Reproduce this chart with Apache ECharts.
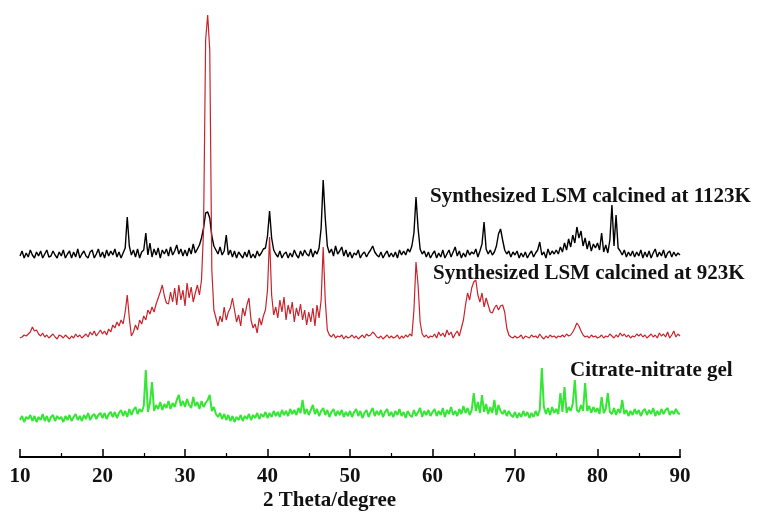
<!DOCTYPE html>
<html>
<head>
<meta charset="utf-8">
<script src="https://cdn.jsdelivr.net/npm/echarts@6/dist/echarts.min.js"></script>
<style>
  html, body { margin: 0; padding: 0; background: #fff; }
  #chart { width: 760px; height: 515px; }
</style>
</head>
<body>
<div id="chart"></div>
<script>
// 2θ sampling of the patterns (degrees)
const thetaStart = 10;
const thetaStep = 0.25;
const xTicks = [10, 20, 30, 40, 50, 60, 70, 80, 90];

// intensities (a.u.), one value per 0.25°, 10° → 90°
const lsm1123K = [
  2,7,0,5,1,8,3,0,6,2,7,0,4,8,1,2,7,3,0,6,
  2,8,0,4,7,0,6,1,9,0,4,7,2,0,6,8,0,4,9,1,
  6,0,8,2,7,3,9,1,6,0,5,10,41,12,3,8,1,9,0,6,
  8,25,3,15,1,9,3,10,0,8,4,9,2,11,3,7,13,4,9,2,
  8,2,10,4,14,5,9,13,20,30,45,46,40,22,12,8,4,11,3,7,
  23,3,8,1,7,0,6,3,0,6,1,8,0,4,0,7,2,5,9,10,
  22,47,20,8,4,1,7,0,4,6,0,5,1,8,3,0,7,2,8,4,
  2,9,1,7,4,10,30,78,40,12,5,9,2,12,4,7,11,2,8,1,
  6,0,5,3,8,0,4,6,1,5,8,12,6,3,1,6,0,4,7,1,
  5,1,6,0,8,3,7,3,9,6,12,25,61,30,9,4,7,1,6,0,
  4,7,0,5,1,8,0,4,8,1,6,11,2,7,0,5,1,8,3,6,
  4,9,1,7,14,36,9,4,8,3,6,12,24,29,18,8,4,7,1,6,
  3,7,0,5,1,6,0,4,7,1,5,8,16,3,6,0,9,3,7,4,
  8,4,11,6,15,8,19,11,23,15,31,20,27,12,20,9,17,7,14,10,
  15,8,25,6,13,5,18,53,12,43,10,7,3,8,1,6,2,7,1,6,
  2,8,0,6,1,7,0,5,9,1,6,2,8,0,5,7,1,6,2,5,
  3
];

const lsm923K = [
  2,3,5,4,6,8,13,9,10,6,4,7,3,5,2,4,6,3,1,5,
  4,2,5,3,1,4,2,6,3,5,2,4,6,3,8,5,9,4,7,10,
  6,9,5,11,8,15,12,18,14,20,16,28,45,22,4,8,15,10,20,16,
  24,20,30,26,33,28,36,42,48,55,44,37,36,48,38,52,35,55,40,50,
  34,57,42,53,38,47,55,45,60,110,300,325,290,70,30,22,14,24,18,33,
  20,28,32,42,30,18,25,14,32,24,35,42,20,12,16,7,22,15,24,30,
  50,103,45,25,33,22,40,28,43,20,35,26,38,18,32,24,36,20,30,15,
  28,18,32,14,35,22,40,93,40,10,5,3,6,2,4,3,5,1,4,2,
  3,5,2,4,1,3,5,2,6,4,5,8,6,3,2,4,1,3,5,2,
  4,2,3,5,1,4,2,5,3,6,4,30,78,55,18,6,3,5,2,4,
  3,6,2,8,4,7,3,10,5,8,2,6,9,4,12,20,35,47,40,52,
  58,60,45,38,47,33,42,35,28,27,32,35,30,34,35,28,12,5,3,2,
  4,2,3,5,1,4,3,2,5,3,4,2,6,3,1,4,2,5,3,4,
  2,4,3,5,3,6,4,5,8,12,17,14,9,5,3,4,2,5,3,4,
  2,3,5,2,4,3,6,4,2,5,3,7,4,6,3,5,2,4,3,6,
  4,6,3,5,2,4,6,3,5,2,7,4,6,3,8,2,5,9,3,6,
  4
];

const citrateGel = [
  2,6,0,5,3,7,1,6,0,5,2,8,1,6,0,5,7,1,6,3,
  5,0,6,2,7,1,5,8,2,6,1,7,3,9,2,6,8,3,7,9,
  4,9,3,8,10,5,10,4,9,12,6,11,5,13,7,12,15,8,13,10,
  16,52,10,19,40,11,17,13,20,12,18,14,21,13,19,15,22,27,16,21,
  15,23,17,14,25,16,20,13,21,15,19,22,27,11,15,8,5,9,3,8,
  2,7,1,6,0,5,2,7,1,6,3,8,2,7,4,9,3,8,5,10,
  4,9,5,11,6,10,5,12,7,11,6,13,8,12,7,14,9,22,8,13,
  7,12,17,8,13,6,11,14,7,12,5,10,13,6,11,7,12,5,10,6,
  11,5,10,13,6,11,4,9,12,5,10,14,6,11,7,12,5,10,13,6,
  10,5,11,7,13,6,10,4,11,7,5,12,6,10,14,5,11,7,12,6,
  10,13,6,11,7,14,5,12,8,15,7,11,6,13,8,16,9,14,7,12,
  29,11,20,9,27,10,18,8,15,9,22,7,17,11,8,12,6,11,7,5,
  10,4,9,5,11,6,10,4,9,5,11,6,12,54,15,8,14,7,15,9,
  13,8,29,10,35,9,15,11,18,42,12,10,17,11,39,11,16,9,15,10,
  14,8,25,9,13,29,10,8,14,7,13,9,22,8,12,6,11,7,13,8,
  12,6,11,13,7,12,8,14,6,11,7,13,8,12,14,7,11,8,13,9,
  8
];

// patterns are stacked with a vertical offset, like the original figure
const offsets = { lsm1123K: 199, lsm923K: 117, citrateGel: 35 };
const labels = {
  lsm1123K: "Synthesized LSM calcined at 1123K",
  lsm923K: "Synthesized LSM calcined at 923K",
  citrateGel: "Citrate-nitrate gel"
};

const toPairs = (vals, off) => vals.map((v, i) => [thetaStart + i * thetaStep, v + off]);

const serif = "'Liberation Serif', 'DejaVu Serif', serif";
const chart = echarts.init(document.getElementById("chart"));

const line = (name, vals, color, width) => ({
  name, type: "line", data: toPairs(vals, offsets[name]),
  showSymbol: false, symbol: "none", silent: true,
  lineStyle: { color, width }
});

chart.setOption({
  animation: false,
  backgroundColor: "#fff",
  grid: { left: 20, right: 80, top: 0, bottom: 58 },
  xAxis: {
    type: "value", min: xTicks[0], max: xTicks[xTicks.length - 1], interval: 10,
    axisLine: { lineStyle: { color: "#000", width: 2 } },
    axisTick: { inside: true, length: 8, lineStyle: { color: "#000", width: 1.5 } },
    minorTick: { show: true, splitNumber: 2, length: 4, lineStyle: { color: "#000", width: 1.2 } },
    splitLine: { show: false },
    axisLabel: { color: "#111", fontFamily: serif, fontWeight: "bold", fontSize: 21, margin: 9 }
  },
  yAxis: { type: "value", min: 0, max: 457, show: false, splitLine: { show: false } },
  series: [
    line("lsm1123K", lsm1123K, "#000000", 1.4),
    line("lsm923K", lsm923K, "#c8232a", 1.2),
    line("citrateGel", citrateGel, "#35e635", 2)
  ],
  graphic: [
    { type: "text", left: 430, top: 186, style: { text: labels.lsm1123K, font: "bold 21px " + serif, fill: "#111" } },
    { type: "text", left: 433, top: 263, style: { text: labels.lsm923K, font: "bold 21px " + serif, fill: "#111" } },
    { type: "text", left: 570, top: 360, style: { text: labels.citrateGel, font: "bold 21px " + serif, fill: "#111" } },
    { type: "text", left: 263, top: 490, style: { text: "2 Theta/degree", font: "bold 21px " + serif, fill: "#111" } }
  ]
});
</script>
</body>
</html>
